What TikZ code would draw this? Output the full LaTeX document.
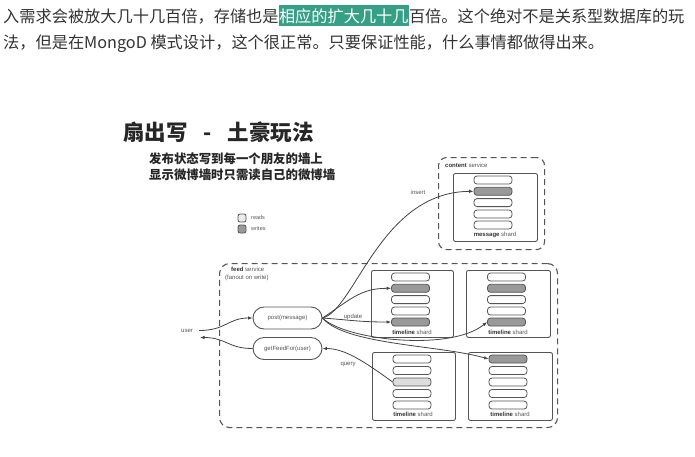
\documentclass[tikz,border=0pt]{standalone}
\usepackage{fontspec}
\setmainfont{Liberation Sans}
\newfontfamily\cjk{Noto Sans CJK SC}
\usetikzlibrary{arrows.meta}
\definecolor{hl}{HTML}{35A085}
\definecolor{txt}{HTML}{333333}
\definecolor{ln}{HTML}{555555}
\definecolor{wr}{HTML}{999999}
\definecolor{rd}{HTML}{DDDDDD}
\tikzset{
 pill/.style={draw=ln, line width=0.8pt, rounded corners=3pt, minimum width=38pt, minimum height=8pt, inner sep=0pt, fill=white},
 wpill/.style={pill, fill=wr},
 rpill/.style={pill, fill=rd},
 shardbox/.style={draw=ln, line width=0.9pt, rounded corners=2pt, anchor=north west, inner sep=0pt},
 svc/.style={draw=ln, line width=1.1pt, dash pattern=on 6pt off 4pt, rounded corners=8pt, anchor=north west, inner sep=0pt},
 lbl/.style={font=\fontsize{6}{7}\selectfont, text=ln, inner sep=0pt},
 op/.style={draw=ln, line width=0.9pt, rounded corners=11pt, minimum width=69pt, minimum height=22pt, inner sep=0pt, font=\fontsize{6}{7}\selectfont, text=ln},
 arr/.style={draw=ln!80!black, line width=0.8pt, -{Latex[length=4.5pt,width=3.5pt]}},
 top/.style={font=\cjk\fontsize{16.2}{20}\selectfont, text=txt, anchor=base west, inner xsep=0pt, inner ysep=3pt},
}
\begin{document}
\begin{tikzpicture}[x=1pt,y=-1pt]
\useasboundingbox[fill=white] (0,0) rectangle (695,456);
% top paragraph
\node[top] (p1) at (3,22) {入需求会被放大几十几百倍，存储也是};
\node[top, fill=hl, text=white] (p2) at (p1.base east) {相应的扩大几十几};
\node[top] (p3) at (p2.base east) {百倍。这个绝对不是关系型数据库的玩};
\node[top] (p4) at (3,48) {法，但是在MongoD 模式设计，这个很正常。只要保证性能，什么事情都做得出来。};
% title
\node[font=\cjk\bfseries\fontsize{21.5}{24}\selectfont, text=black!85, anchor=base west, inner sep=0pt] (title) at (123,140) {扇出写\hspace{16pt}-\hspace{16pt}土豪玩法};
\node[font=\cjk\bfseries\fontsize{12.4}{15.5}\selectfont, text=black!85, anchor=base west, inner sep=0pt] (sub1) at (149,163) {发布状态写到每一个朋友的墙上};
\node[font=\cjk\bfseries\fontsize{12.4}{15.5}\selectfont, text=black!85, anchor=base west, inner sep=0pt] (sub2) at (149,179) {显示微博墙时只需读自己的微博墙};
% legend
\node[pill, fill=rd!60, minimum width=8pt, minimum height=8pt, rounded corners=2pt] (lr) at (242,218) {};
\node[pill, fill=wr, minimum width=8pt, minimum height=8pt, rounded corners=2pt] (lw) at (242,229) {};
\node[lbl, anchor=west, font=\fontsize{5.5}{6}\selectfont] (lrt) at (251,218) {reads};
\node[lbl, anchor=west, font=\fontsize{5.5}{6}\selectfont] (lwt) at (251,229) {writes};
% content service
\node[svc, minimum width=106pt, minimum height=92pt] (content) at (438,157) {};
\node[lbl, anchor=west] (contentl) at (445,165) {\textbf{\color{txt}content} service};
\node[shardbox, minimum width=84pt, minimum height=68pt] (msgbox) at (453,173) {};
\foreach \n/\y/\s in {1/180/pill,2/191.3/wpill,3/202.6/pill,4/214/pill,5/225/pill}
  \node[\s] (m\n) at (493,\y) {};
\node[lbl] (msgl) at (495,235) {\textbf{\color{txt}message} shard};
% feed service
\node[svc, minimum width=338pt, minimum height=164pt, rounded corners=10pt] (feed) at (219,263) {};
\node[lbl, anchor=west] (feedl) at (231,269) {\textbf{\color{txt}feed} service};
\node[lbl, anchor=west] (feedl2) at (225,278) {(fanout on write)};
% shards
\node[shardbox, minimum width=82pt, minimum height=67pt] (tlbox) at (371,270) {};
\foreach \n/\y/\s in {1/277/pill,2/288.3/wpill,3/299.6/pill,4/311/pill,5/322/wpill}
  \node[\s] (tl\n) at (410.5,\y) {};
\node[lbl] (tll) at (412,332) {\textbf{\color{txt}timeline} shard};
\node[shardbox, minimum width=84pt, minimum height=67pt] (trbox) at (466,270) {};
\foreach \n/\y/\s in {1/277/pill,2/288.3/wpill,3/299.6/pill,4/311/pill,5/322/wpill}
  \node[\s] (tr\n) at (506.5,\y) {};
\node[lbl] (trl) at (508,332) {\textbf{\color{txt}timeline} shard};
\node[shardbox, minimum width=83pt, minimum height=68pt] (blbox) at (372,352) {};
\foreach \n/\y/\s in {1/359/pill,2/370.5/pill,3/382/rpill,4/393.5/pill,5/405/pill}
  \node[\s] (bl\n) at (412,\y) {};
\node[lbl] (bll) at (413,414) {\textbf{\color{txt}timeline} shard};
\node[shardbox, minimum width=84pt, minimum height=68pt] (brbox) at (468,352) {};
\foreach \n/\y/\s in {1/359/wpill,2/370.5/pill,3/382/pill,4/393.5/pill,5/405/pill}
  \node[\s] (br\n) at (508,\y) {};
\node[lbl] (brl) at (510,414) {\textbf{\color{txt}timeline} shard};
% operations
\node[op] (post) at (287.5,318) {post(message)};
\node[op] (get) at (287.5,348.5) {getFeedFor(user)};
\node[lbl] (user) at (187,331) {user};
\coordinate (uin) at (199,330.5);
\coordinate (uout) at (200,337.5);
% labels
\node[lbl] (ins) at (418,192) {insert};
\node[lbl] (upd) at (353,317) {update};
\node[lbl] (qry) at (348,364) {query};
% connectors
\draw[arr] (uin) .. controls (226,330.5) and (228,318) .. (post.west);
\draw[arr] (get.west) .. controls (228,348.5) and (226,337.5) .. (uout);
\draw[arr] (post.east) .. controls (355,310) and (380,192) .. (m2.west);
\draw[arr] (post.east) .. controls (350,300) and (360,288.3) .. (tl2.west);
\draw[arr] (post.east) .. controls (350,320) and (360,322) .. (tl5.west);
\draw[arr] (post.east) .. controls (345,340) and (450,352) .. (tr5.west);
\draw[arr] (post.east) .. controls (345,345) and (440,345) .. (br1.west);
\draw[arr] (bl3.west) .. controls (365,362) and (345,348.5) .. (get.east);
\end{tikzpicture}
\end{document}
